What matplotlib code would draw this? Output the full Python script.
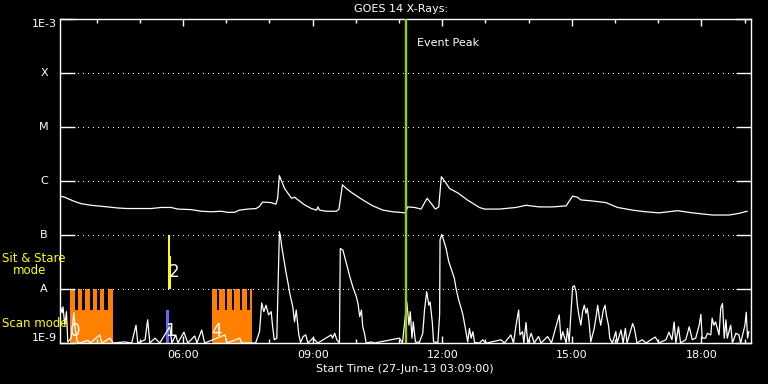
import numpy as np
import matplotlib
matplotlib.use("Agg")
import matplotlib.pyplot as plt
from matplotlib.patches import Rectangle
from matplotlib.ticker import FixedLocator, NullLocator

# ── data: time in hours UT (27-Jun-13), log10 flux (W/m^2) ───────────────────

long_t = [3.15, 3.26, 3.37, 3.49, 3.64, 3.87, 4.26, 4.49, 4.72, 5.03,
          5.26, 5.49, 5.72, 5.88, 6.19, 6.42, 6.65, 6.88, 7.03, 7.19,
          7.30, 7.50, 7.69, 7.77, 7.84, 8.04, 8.15, 8.19, 8.23, 8.27,
          8.35, 8.43, 8.51, 8.58, 8.66, 8.81, 8.97, 9.09, 9.12, 9.16,
          9.32, 9.55, 9.61, 9.64, 9.69, 9.78, 9.93, 10.16, 10.39, 10.63,
          10.86, 11.15, 11.20, 11.36, 11.51, 11.65, 11.74, 11.84, 11.92, 11.98,
          12.09, 12.17, 12.36, 12.58, 12.86, 12.98, 13.32, 13.71, 13.94, 14.25,
          14.56, 14.87, 14.96, 15.02, 15.13, 15.21, 15.48, 15.79, 16.06, 16.41,
          16.71, 17.02, 17.45, 17.79, 18.26, 18.64, 18.87, 19.06]
long_logf = [-6.28, -6.30, -6.34, -6.38, -6.42, -6.45, -6.48, -6.50, -6.51, -6.51,
             -6.51, -6.49, -6.49, -6.52, -6.53, -6.56, -6.57, -6.56, -6.58, -6.58,
             -6.54, -6.52, -6.51, -6.47, -6.39, -6.40, -6.43, -6.32, -5.90, -5.98,
             -6.14, -6.23, -6.32, -6.30, -6.35, -6.44, -6.51, -6.54, -6.48, -6.54,
             -6.56, -6.56, -6.52, -6.35, -6.07, -6.14, -6.23, -6.35, -6.46, -6.54,
             -6.57, -6.59, -6.48, -6.49, -6.52, -6.32, -6.41, -6.52, -6.48, -5.92,
             -6.04, -6.14, -6.22, -6.35, -6.49, -6.52, -6.52, -6.49, -6.45, -6.48,
             -6.48, -6.46, -6.35, -6.28, -6.30, -6.35, -6.37, -6.40, -6.49, -6.54,
             -6.57, -6.59, -6.55, -6.59, -6.63, -6.63, -6.60, -6.56]

short_t = [3.15, 3.20, 3.22, 3.26, 3.30, 3.33, 3.41, 3.47, 3.50, 3.55,
           3.61, 3.80, 3.85, 4.07, 4.12, 4.31, 4.38, 4.65, 4.81, 4.91,
           4.95, 5.12, 5.18, 5.23, 5.35, 5.46, 5.69, 5.74, 5.83, 5.88,
           5.92, 6.02, 6.11, 6.27, 6.32, 6.43, 6.50, 6.97, 7.02, 7.31,
           7.36, 7.68, 7.77, 7.82, 7.87, 7.92, 7.98, 8.04, 8.07, 8.11,
           8.17, 8.19, 8.23, 8.25, 8.28, 8.33, 8.38, 8.43, 8.47, 8.54,
           8.58, 8.62, 8.68, 8.72, 8.78, 8.84, 8.89, 9.01, 9.12, 9.43,
           9.46, 9.51, 9.56, 9.62, 9.64, 9.70, 9.78, 9.86, 9.93, 10.01,
           10.05, 10.09, 10.13, 10.16, 10.20, 10.24, 10.36, 10.43, 11.01, 11.08,
           11.18, 11.23, 11.26, 11.30, 11.33, 11.38, 11.47, 11.55, 11.59, 11.64,
           11.69, 11.72, 11.77, 11.80, 11.90, 11.94, 11.95, 11.99, 12.03, 12.09,
           12.15, 12.23, 12.28, 12.32, 12.38, 12.44, 12.48, 12.51, 12.55, 12.59,
           12.63, 12.67, 12.71, 12.75, 12.86, 12.94, 13.00, 13.09, 13.36, 13.44,
           13.59, 13.65, 13.71, 13.77, 13.80, 13.86, 13.89, 13.94, 13.98, 14.06,
           14.13, 14.23, 14.29, 14.44, 14.53, 14.71, 14.75, 14.79, 14.87, 14.90,
           14.94, 14.98, 15.02, 15.06, 15.10, 15.13, 15.17, 15.21, 15.25, 15.29,
           15.33, 15.36, 15.40, 15.44, 15.52, 15.57, 15.60, 15.64, 15.67, 15.73,
           15.77, 15.80, 15.85, 15.88, 15.94, 16.02, 16.05, 16.14, 16.19, 16.24,
           16.28, 16.41, 16.45, 16.51, 16.63, 16.72, 16.93, 17.02, 17.18, 17.25,
           17.32, 17.37, 17.41, 17.47, 17.52, 17.64, 17.72, 17.79, 17.87, 17.95,
           17.99, 18.02, 18.10, 18.14, 18.22, 18.25, 18.29, 18.33, 18.37, 18.41,
           18.45, 18.49, 18.53, 18.57, 18.60, 18.68, 18.72, 18.80, 18.87, 18.91,
           19.01, 19.04, 19.07, 19.10]
short_logf = [-8.30, -8.44, -8.33, -8.67, -8.42, -8.98, -8.91, -8.44, -8.72, -8.98,
              -9.0, -8.95, -9.0, -8.85, -9.0, -8.91, -9.0, -8.98, -9.0, -8.67,
              -9.0, -8.94, -8.57, -9.0, -8.91, -9.0, -8.70, -9.0, -8.85, -9.0,
              -8.94, -8.80, -9.0, -8.87, -9.0, -8.76, -9.0, -8.85, -9.0, -8.91,
              -9.0, -9.0, -8.79, -8.26, -8.42, -8.30, -8.48, -8.42, -8.67, -8.94,
              -8.91, -8.26, -6.94, -7.00, -7.19, -7.43, -7.68, -7.89, -8.08, -8.33,
              -8.61, -8.39, -8.85, -8.99, -8.88, -8.85, -9.0, -8.91, -9.0, -8.85,
              -8.91, -8.82, -8.94, -9.0, -7.25, -7.28, -7.52, -7.77, -7.96, -8.14,
              -8.27, -8.51, -8.39, -8.70, -8.82, -9.0, -8.98, -9.0, -8.91, -9.0,
              -8.24, -8.67, -8.42, -8.91, -8.61, -8.98, -8.99, -8.82, -8.39, -8.05,
              -8.30, -8.24, -8.61, -8.98, -8.99, -8.48, -7.09, -6.99, -7.09, -7.25,
              -7.49, -7.68, -7.80, -7.99, -8.20, -8.36, -8.48, -8.61, -8.79, -8.98,
              -8.73, -8.91, -8.79, -8.99, -9.0, -8.94, -9.0, -8.99, -8.94, -9.0,
              -8.85, -9.0, -8.67, -8.39, -8.85, -8.79, -9.0, -8.62, -9.0, -8.82,
              -9.0, -8.88, -9.0, -8.88, -9.0, -8.48, -8.94, -8.79, -9.0, -8.73,
              -8.98, -8.45, -7.96, -7.94, -8.05, -8.30, -8.51, -8.67, -8.42, -8.30,
              -8.45, -8.36, -8.61, -8.98, -8.73, -8.48, -8.30, -8.54, -8.67, -8.39,
              -8.30, -8.48, -8.67, -8.91, -9.0, -8.79, -9.0, -8.76, -9.0, -8.73,
              -9.0, -8.64, -8.73, -9.0, -8.94, -9.0, -8.89, -9.0, -8.94, -8.80,
              -8.94, -8.61, -9.0, -8.70, -9.0, -8.94, -8.70, -8.94, -8.91, -8.67,
              -8.47, -8.91, -8.91, -8.82, -8.85, -8.54, -8.67, -8.61, -8.73, -8.85,
              -8.35, -8.27, -8.91, -8.57, -8.91, -8.67, -9.0, -8.82, -8.85, -9.0,
              -8.67, -8.43, -8.91, -8.79]

event_peak = 11.17

# scan-mode rasters (orange): solid base + teeth reaching the A level
scan_blocks = [(3.38, 4.38), (6.66, 7.59)]
scan_teeth = [(3.38, 3.49), (3.57, 3.66), (3.74, 3.84), (3.91, 4.01), (4.08, 4.18), (4.26, 4.38),
              (6.66, 6.78), (6.84, 6.96), (7.02, 7.13), (7.19, 7.31), (7.37, 7.48), (7.54, 7.59)]
base_top = -8.39

# single observations
blue_obs = (5.60, 5.67, -9.0, -8.39)
sit_stare = [(5.64, 5.70, -8.0, -7.0), (5.70, 5.73, -8.0, -7.39)]

obs_labels = ["0", "1", "2", "4"]
obs_label_t = [3.50, 5.70, 5.79, 6.78]
obs_label_logf = [-8.78, -8.78, -7.68, -8.78]

yticks_exp = [-3, -4, -5, -6, -7, -8, -9]
ytick_labels = ["1E-3", "X", "M", "C", "B", "A", "1E-9"]
xmajor = [6, 9, 12, 15, 18]
xminor = list(range(4, 20))

# ── figure ────────────────────────────────────────────────────────────────────

W, H = 768, 384
fig = plt.figure(figsize=(W / 100, H / 100), dpi=100, facecolor="black")
ax = fig.add_axes([60 / W, 1 - 343 / H, 691 / W, 324 / H], facecolor="black")
ax.set_yscale("log")
ax.set_xlim(3.15, 19.15)
ax.set_ylim(1e-9, 1e-3)

for s in ax.spines.values():
    s.set_color("white")
    s.set_linewidth(1.0)

# orange scan blocks (below the curves)
for a, b in scan_blocks:
    ax.add_patch(Rectangle((a, 1e-10), b - a, 10 ** base_top - 1e-10,
                           color="#FF8000", lw=0, zorder=1))
for a, b in scan_teeth:
    ax.add_patch(Rectangle((a, 1e-9), b - a, 1e-8 - 1e-9,
                           color="#FF8000", lw=0, zorder=1))

a, b, y0, y1 = blue_obs
ax.add_patch(Rectangle((a, 10 ** y0), b - a, 10 ** y1 - 10 ** y0,
                       color="#6464FF", lw=0, zorder=1))
for a, b, y0, y1 in sit_stare:
    ax.add_patch(Rectangle((a, 10 ** y0), b - a, 10 ** y1 - 10 ** y0,
                           color="#FFFF00", lw=0, zorder=1))

# dotted class levels
yt = ax.get_yaxis_transform()
for e in [-4, -5, -6, -7, -8]:
    ax.plot([0.026, 0.978], [10.0 ** e] * 2, transform=yt, color="white",
            lw=0.72, ls=(0, (1, 5)), antialiased=False, zorder=2)

ax.plot(long_t, 10 ** np.array(long_logf), color="white", lw=0.9, zorder=3)
ax.plot(short_t, 10 ** np.array(short_logf), color="white", lw=0.9, zorder=3)

ax.axvline(event_peak, color="#9ACD00", lw=1.7, zorder=4)
ax.text((417 - 60) / 691, 1 - (43 - 19) / 324, "Event Peak", transform=ax.transAxes,
        color="white", fontsize=8, va="center", ha="left")

for lab, t, lf in zip(obs_labels, obs_label_t, obs_label_logf):
    ax.text(t, 10 ** lf, lab, color="white", fontsize=12, ha="center",
            va="center", zorder=5)

# ticks
ax.yaxis.set_major_locator(FixedLocator([10.0 ** e for e in yticks_exp]))
ax.yaxis.set_minor_locator(NullLocator())
ax.tick_params(axis="y", which="major", direction="in", length=10.8, width=1,
               color="white", left=True, right=True, labelleft=False)
for e, lab in zip(yticks_exp, ytick_labels):
    va = "top" if e == -3 else ("bottom" if e == -9 else "center")
    ax.text(-16 / 691, 10.0 ** e, lab, transform=yt, color="white", fontsize=8,
            ha="center", va=va)

ax.set_xticks(xmajor)
ax.set_xticklabels([f"{h:02d}:00" for h in xmajor])
ax.xaxis.set_minor_locator(FixedLocator(xminor))
ax.tick_params(axis="x", which="major", direction="in", length=5, width=1,
               color="white", top=True, bottom=True, labelcolor="white",
               labelsize=8, pad=5)
ax.tick_params(axis="x", which="minor", direction="in", length=2.8, width=1,
               color="white", top=True, bottom=True)

fig.text(401 / W, 1 - 9 / H, "GOES 14 X-Rays:", color="white", fontsize=8,
         ha="center", va="center")
fig.text(405 / W, 1 - 369 / H, "Start Time (27-Jun-13 03:09:00)", color="white",
         fontsize=8, ha="center", va="center")

fig.text(2 / W, 1 - 258 / H, "Sit & Stare", color="#FFFF00", fontsize=8.5,
         ha="left", va="center")
fig.text(13 / W, 1 - 271 / H, "mode", color="#FFFF00", fontsize=8.5,
         ha="left", va="center")
fig.text(2 / W, 1 - 323.5 / H, "Scan mode", color="#FFFF00", fontsize=8.5,
         ha="left", va="center")

fig.savefig("out.png", dpi=100, facecolor="black")
